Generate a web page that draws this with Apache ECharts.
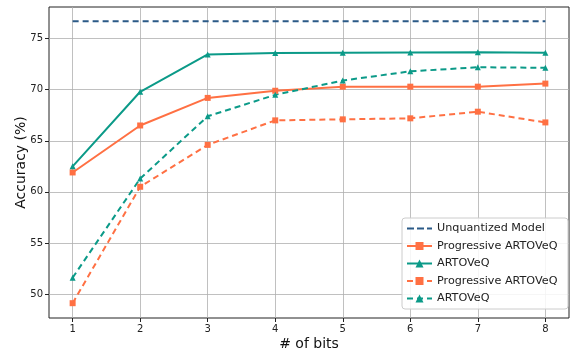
<!DOCTYPE html>
<html>
<head>
<meta charset="utf-8">
<script src="https://cdn.jsdelivr.net/npm/echarts@6/dist/echarts.min.js"></script>
<style>
  html, body { margin: 0; padding: 0; background: #fff; }
  #main { width: 571px; height: 350px; }
</style>
</head>
<body>
<div id="main"></div>
<script>
// bits on the x axis
const bits = [1, 2, 3, 4, 5, 6, 7, 8];
const unquantized = [76.7, 76.7, 76.7, 76.7, 76.7, 76.7, 76.7, 76.7];
const progSolid = [61.9, 66.5, 69.2, 69.9, 70.3, 70.3, 70.3, 70.6];
const artoSolid = [62.5, 69.8, 73.45, 73.6, 73.62, 73.64, 73.66, 73.63];
const progDashed = [49.1, 60.5, 64.6, 67.0, 67.1, 67.2, 67.85, 66.8];
const artoDashed = [51.6, 61.3, 67.4, 69.5, 70.9, 71.8, 72.2, 72.15];
const xTicks = [1, 2, 3, 4, 5, 6, 7, 8];
const yTicks = [50, 55, 60, 65, 70, 75];

const orange = "#ff7043";
const teal = "#0b9a88";
const navy = "#2b5a87";

function pts(ys) {
  return bits.map((b, i) => [b, ys[i]]);
}

const chart = echarts.init(document.getElementById("main"));
chart.setOption({
  animation: false,
  textStyle: { fontFamily: "DejaVu Sans" },
  grid: {
    left: 49, right: 2, top: 7, bottom: 32,
    outerBoundsMode: "none",
    containLabel: false,
    show: true, borderColor: "#222", borderWidth: 1,
  },
  legend: {
    orient: "vertical",
    left: 402, top: 218,
    padding: [5, 7, 5, 4],
    itemGap: 6.5,
    itemWidth: 25, itemHeight: 10,
    backgroundColor: "rgba(255,255,255,0.85)",
    borderColor: "#ccc", borderWidth: 1, borderRadius: 3,
    textStyle: { fontSize: 11.2, color: "#222" },
    data: [
      {
        name: "Unquantized Model",
        // dashed line glyph, no marker
        icon: "path://M0,4h7v2h-7zM10,4h7v2h-7zM20,4h5v2h-5z",
        itemStyle: { color: navy },
      },
      { name: "Progressive ARTOVeQ" },
      { name: "ARTOVeQ" },
      { name: "Progressive ARTOVeQ " },
      { name: "ARTOVeQ " },
    ],
  },
  xAxis: {
    type: "value",
    min: 0.65, max: 8.35,
    name: "# of bits",
    nameLocation: "middle",
    nameGap: 19,
    nameMoveOverlap: false,
    nameTextStyle: { fontSize: 14, color: "#111" },
    axisLine: { show: false },
    axisTick: { show: true, customValues: xTicks, length: 4, lineStyle: { color: "#222" } },
    axisLabel: { customValues: xTicks, fontSize: 10, color: "#222", margin: 6 },
    splitLine: { show: true, lineStyle: { color: "#b0b0b0", width: 0.8 } },
  },
  yAxis: {
    type: "value",
    min: 47.65, max: 78.1,
    name: "Accuracy (%)",
    nameLocation: "middle",
    nameGap: 21,
    nameMoveOverlap: false,
    nameTextStyle: { fontSize: 14, color: "#111" },
    axisLine: { show: false },
    axisTick: { show: true, customValues: yTicks, length: 4, lineStyle: { color: "#222" } },
    axisLabel: { customValues: yTicks, fontSize: 10, color: "#222", margin: 6 },
    splitLine: { show: true, lineStyle: { color: "#b0b0b0", width: 0.8 } },
  },
  series: [
    {
      name: "Unquantized Model", type: "line", data: pts(unquantized),
      showSymbol: false, symbol: "none",
      lineStyle: { color: navy, width: 2, type: [6, 4] },
      itemStyle: { color: navy },
    },
    {
      name: "Progressive ARTOVeQ", type: "line", data: pts(progSolid),
      symbol: "rect", symbolSize: 6,
      lineStyle: { color: orange, width: 2 },
      itemStyle: { color: orange },
    },
    {
      name: "ARTOVeQ", type: "line", data: pts(artoSolid),
      symbol: "triangle", symbolSize: 6,
      lineStyle: { color: teal, width: 2 },
      itemStyle: { color: teal },
    },
    {
      name: "Progressive ARTOVeQ ", type: "line", data: pts(progDashed),
      symbol: "rect", symbolSize: 6,
      lineStyle: { color: orange, width: 2, type: [6, 4] },
      itemStyle: { color: orange },
    },
    {
      name: "ARTOVeQ ", type: "line", data: pts(artoDashed),
      symbol: "triangle", symbolSize: 6,
      lineStyle: { color: teal, width: 2, type: [6, 4] },
      itemStyle: { color: teal },
    },
  ],
});
</script>
</body>
</html>
